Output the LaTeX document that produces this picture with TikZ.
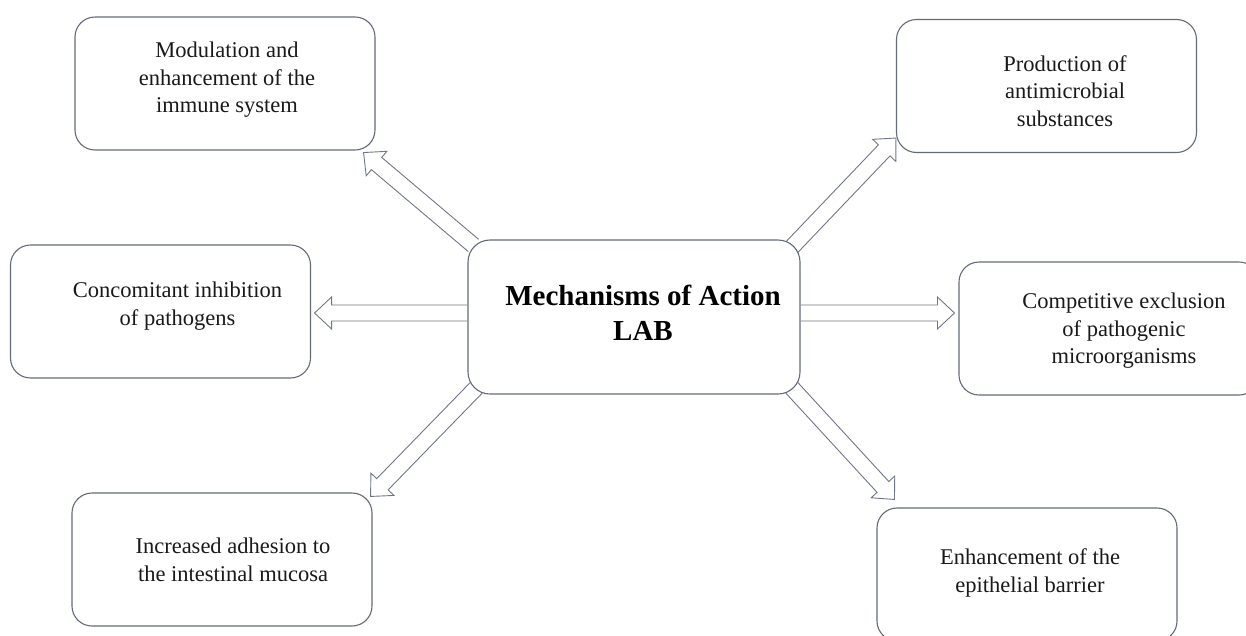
\documentclass[tikz,border=0pt]{standalone}
\usepackage{fontspec}
\setmainfont{Liberation Serif}
\usetikzlibrary{calc}

\definecolor{boxgray}{RGB}{100,106,122}
\definecolor{arrgray}{RGB}{112,118,135}

\tikzset{
  outerbox/.style={draw=boxgray, line width=1.1pt, rounded corners=20pt,
    minimum width=300pt, minimum height=133pt, inner sep=0pt},
  boxtext/.style={align=center, inner sep=0pt,
    font=\fontsize{22.5}{27.5}\selectfont, text=black!90},
  centerbox/.style={draw=boxgray, line width=1.1pt, rounded corners=22pt,
    minimum width=332pt, minimum height=154pt, inner sep=0pt},
  centertext/.style={align=center, inner sep=0pt,
    font=\fontsize{29}{35}\selectfont\bfseries},
  blockarr/.style={draw=arrgray, line width=0.9pt, line join=miter},
}

% hollow block arrow from #1 to #2
\def\shaftw{8pt}
\def\headw{16pt}
\def\headl{17pt}
\newcommand{\blockarrow}[2]{%
  \coordinate (ah) at ($(#2)!\headl!(#1)$);
  \draw[blockarr] ($(#1)!\shaftw!90:(#2)$) -- ($(ah)!\shaftw!-90:(#1)$)
    -- ($(ah)!\headw!-90:(#1)$) -- (#2) -- ($(ah)!\headw!90:(#1)$)
    -- ($(ah)!\shaftw!90:(#1)$) -- ($(#1)!\shaftw!-90:(#2)$);
}

\begin{document}
\begin{tikzpicture}[x=1pt,y=-1pt]
    \clip (0,0) rectangle (1246,635);
    % Centre box
    \node[centerbox] (lab) at (634,317) {};
    \node[centertext] (lab-txt) at (643,313) {Mechanisms of Action\\LAB};
    % Outer boxes and their texts
    \foreach \nm/\bx/\by/\tx/\ty/\txt in {
        immune/225/83.5/227/80/{Modulation and\\enhancement of the\\immune system},
        prod/1046.5/86/1065/91/{Production of\\antimicrobial\\substances},
        inhib/160.5/311.5/177.5/306/{Concomitant inhibition\\of pathogens},
        excl/1109/328.5/1124/331/{Competitive exclusion\\of pathogenic\\microorganisms},
        adhes/222/559.5/233/560/{Increased adhesion to\\the intestinal mucosa},
        barrier/1027/574.5/1030/573/{Enhancement of the\\epithelial barrier}} {
        \node[outerbox] (\nm) at (\bx,\by) {};
        \node[boxtext] (\nm-txt) at (\tx,\ty) {\txt};
    }
    % Arrow ends
    \coordinate (tl-s) at ([shift={(6pt,-6pt)}]lab.north west);
    \coordinate (tl-e) at ([shift={(-12pt,-2pt)}]immune.south east);
    \coordinate (tr-s) at ([shift={(-9pt,-8pt)}]lab.north east);
    \coordinate (tr-e) at ([shift={(0pt,15pt)}]prod.south west);
    \coordinate (l-s) at ([shift={(0pt,4pt)}]lab.west);
    \coordinate (l-e) at ([shift={(3.5pt,-1.5pt)}]inhib.east);
    \coordinate (r-s) at ([shift={(0pt,4pt)}]lab.east);
    \coordinate (r-e) at ([shift={(-4pt,15.5pt)}]excl.west);
    \coordinate (bl-s) at ([shift={(9pt,7pt)}]lab.south west);
    \coordinate (bl-e) at ([shift={(-2pt,-4pt)}]adhes.north east);
    \coordinate (br-s) at ([shift={(-9pt,7pt)}]lab.south east);
    \coordinate (br-e) at ([shift={(18pt,8pt)}]barrier.north west);
    % Arrows
    \blockarrow{tl-s}{tl-e}
    \blockarrow{tr-s}{tr-e}
    \blockarrow{l-s}{l-e}
    \blockarrow{r-s}{r-e}
    \blockarrow{bl-s}{bl-e}
    \blockarrow{br-s}{br-e}
\end{tikzpicture}
\end{document}
